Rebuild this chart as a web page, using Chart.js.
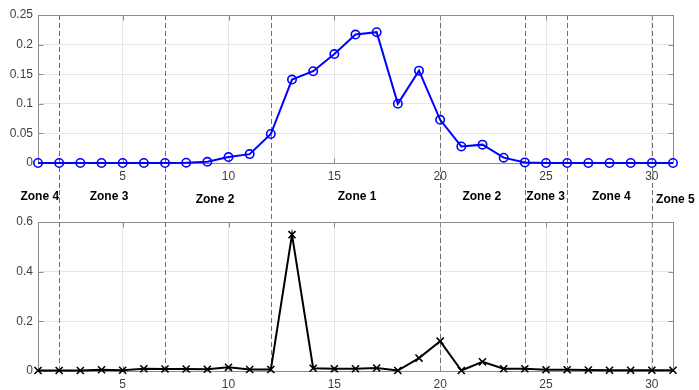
<!DOCTYPE html>
<html>
<head>
<meta charset="utf-8">
<script src="https://cdn.jsdelivr.net/npm/chart.js@4/dist/chart.umd.min.js"></script>
<style>
  html, body { margin: 0; padding: 0; background: #ffffff; }
  #wrap { position: relative; width: 699px; height: 390px; overflow: hidden; }
  canvas { position: absolute; left: 0; }
  #c1 { top: 0; }
  #c2 { top: 190px; }
</style>
</head>
<body>
<div id="wrap">
  <canvas id="c1" width="699" height="190"></canvas>
  <canvas id="c2" width="699" height="200"></canvas>
</div>
<script>
// ---- data ----
const xValues = [1,2,3,4,5,6,7,8,9,10,11,12,13,14,15,16,17,18,19,20,21,22,23,24,25,26,27,28,29,30,31];
const topValues = [0,0,0,0,0,0,0,0.0005,0.002,0.010,0.015,0.049,0.141,0.155,0.184,0.217,0.221,0.100,0.156,0.073,0.028,0.031,0.009,0.001,0,0,0,0,0,0,0];
const bottomValues = [0.002,0.002,0.002,0.005,0.003,0.009,0.008,0.008,0.007,0.015,0.006,0.006,0.549,0.011,0.009,0.009,0.012,0.002,0.052,0.120,0.002,0.037,0.009,0.009,0.005,0.005,0.004,0.003,0.003,0.003,0.003];
const xTicks = [5,10,15,20,25,30];
const xTickLabels = ['5','10','15','20','25','30'];
const topYTicks = [0,0.05,0.1,0.15,0.2,0.25];
const topYTickLabels = ['0','0.05','0.1','0.15','0.2','0.25'];
const bottomYTicks = [0,0.2,0.4,0.6];
const bottomYTickLabels = ['0','0.2','0.4','0.6'];
const zoneBoundaries = [2,7,12,20,24,26,30];
const zoneNames = ['Zone 4','Zone 3','Zone 2','Zone 1','Zone 2','Zone 3','Zone 4','Zone 5'];
const zoneLabelX = [0.17,3.44,8.45,15.16,21.05,24.07,27.17,30.2];
const zoneLabelY = [0.70,0.70,0.69,0.70,0.70,0.70,0.70,0.69];

// ---- styling ----
const FONT = '"Liberation Sans", Arial, Helvetica, sans-serif';
const FRAME = '#8a8a8a';
const GRID = '#e6e6e6';
const TICKTXT = '#404040';

function decorPlugin(which) {
  return {
    id: 'decor_' + which,
    beforeDatasetsDraw(chart) {
      const ctx = chart.ctx, a = chart.chartArea;
      const xs = chart.scales.x, ys = chart.scales.y;
      ctx.save();
      // dashed zone boundaries
      ctx.strokeStyle = '#6e6e6e';
      ctx.lineWidth = 1;
      ctx.setLineDash([5, 3]);
      zoneBoundaries.forEach(v => {
        const px = Math.round(xs.getPixelForValue(v)) + 0.5;
        ctx.beginPath();
        if (which === 'top') { ctx.moveTo(px, a.top); ctx.lineTo(px, chart.height); }
        else { ctx.moveTo(px, 0); ctx.lineTo(px, a.bottom); }
        ctx.stroke();
      });
      ctx.setLineDash([]);
      // frame
      ctx.strokeStyle = FRAME;
      ctx.lineWidth = 1;
      const L = Math.round(a.left) + 0.5, R = Math.round(a.right) + 0.5;
      const T = Math.round(a.top) + 0.5, B = Math.round(a.bottom) + 0.5;
      ctx.strokeRect(L, T, R - L, B - T);
      // inward ticks
      const tl = 5;
      ctx.beginPath();
      xTicks.forEach(v => {
        const px = Math.round(xs.getPixelForValue(v)) + 0.5;
        ctx.moveTo(px, B); ctx.lineTo(px, B - tl);
        ctx.moveTo(px, T); ctx.lineTo(px, T + tl);
      });
      (which === 'top' ? topYTicks : bottomYTicks).forEach(v => {
        const py = Math.round(ys.getPixelForValue(v)) + 0.5;
        ctx.moveTo(L, py); ctx.lineTo(L + tl, py);
        ctx.moveTo(R, py); ctx.lineTo(R - tl, py);
      });
      ctx.stroke();
      ctx.restore();
    },
    afterDraw(chart) {
      if (which !== 'bottom') return;
      const ctx = chart.ctx;
      const xs = chart.scales.x, ys = chart.scales.y;
      ctx.save();
      ctx.fillStyle = '#000000';
      ctx.font = 'bold 12px ' + FONT;
      ctx.textAlign = 'left';
      ctx.textBaseline = 'middle';
      zoneNames.forEach((n, i) => {
        ctx.fillText(n, xs.getPixelForValue(zoneLabelX[i]), ys.getPixelForValue(zoneLabelY[i]));
      });
      ctx.restore();
    }
  };
}

function makeChart(id, which, values, yMax, yTicks, yLabels, color, pointStyle, radius, padTop, xHeight) {
  return new Chart(document.getElementById(id), {
    type: 'line',
    data: {
      datasets: [{
        data: xValues.map((x, i) => ({ x: x, y: values[i] })),
        borderColor: color,
        borderWidth: 2,
        pointStyle: pointStyle,
        pointRadius: radius,
        pointBorderWidth: 1.6,
        pointBorderColor: color,
        pointBackgroundColor: 'rgba(0,0,0,0)',
        tension: 0,
        clip: false
      }]
    },
    options: {
      responsive: false,
      animation: false,
      devicePixelRatio: 1,
      layout: { padding: { left: 0, right: 26, top: padTop, bottom: 0 } },
      plugins: { legend: { display: false }, tooltip: { enabled: false } },
      scales: {
        x: {
          type: 'linear', min: 1, max: 31,
          afterBuildTicks: s => { s.ticks = xTicks.map(v => ({ value: v })); },
          afterFit: s => { s.height = xHeight; },
          ticks: {
            callback: (v) => { const k = xTicks.indexOf(v); return k >= 0 ? xTickLabels[k] : ''; },
            font: { family: FONT, size: 12 }, color: TICKTXT, padding: 6, maxRotation: 0, autoSkip: false
          },
          grid: { color: GRID, drawTicks: false, lineWidth: 1 },
          border: { display: false }
        },
        y: {
          type: 'linear', min: 0, max: yMax,
          afterBuildTicks: s => { s.ticks = yTicks.map(v => ({ value: v })); },
          afterFit: s => { s.width = 38; },
          ticks: {
            callback: (v) => { const k = yTicks.indexOf(v); return k >= 0 ? yLabels[k] : ''; },
            font: { family: FONT, size: 12 }, color: TICKTXT, padding: 5
          },
          grid: { color: GRID, drawTicks: false, lineWidth: 1 },
          border: { display: false }
        }
      }
    },
    plugins: [decorPlugin(which)]
  });
}

makeChart('c1', 'top', topValues, 0.25, topYTicks, topYTickLabels, '#0000ff', 'circle', 4.2, 15, 27);
makeChart('c2', 'bottom', bottomValues, 0.6, bottomYTicks, bottomYTickLabels, '#000000', 'crossRot', 5, 32, 19);
</script>
</body>
</html>
